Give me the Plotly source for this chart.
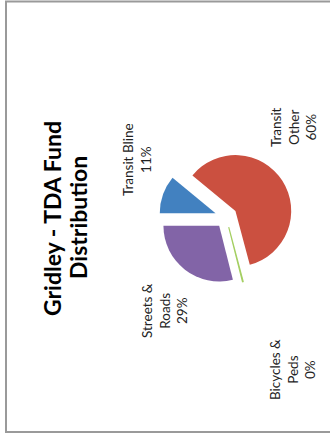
import plotly.graph_objects as go

categories = ["Transit Bline", "Transit Other", "Bicycles & Peds", "Streets & Roads"]
values = [11, 60, 0.2, 29]
pct_labels = ["11%", "60%", "0%", "29%"]
label_lines = ["Transit Bline", "Transit<br>Other", "Bicycles &<br>Peds", "Streets &<br>Roads"]
colors = ["#4281C0", "#CB5040", "#A5CF63", "#8264A7"]

W, H = 330, 436

fig = go.Figure(go.Pie(
    labels=categories,
    values=values,
    sort=False,
    direction="clockwise",
    rotation=270,
    pull=[0.2, 0.2, 0.2, 0.2],
    marker=dict(colors=colors, line=dict(color=colors, width=[0, 0, 1.2, 0])),
    textinfo="none",
    hoverinfo="label+percent",
    showlegend=False,
    domain=dict(x=[0.482, 0.888], y=[0.349, 0.656]),
))

# rotated data labels (the chart is shown turned 90 degrees)
label_pos = [(137, 160), (294, 127), (292, 370), (164, 311)]
for txt, pct, (px, py) in zip(label_lines, pct_labels, label_pos):
    fig.add_annotation(
        x=px / W, y=1 - py / H, xref="paper", yref="paper",
        text=f"{txt}<br>{pct}", showarrow=False, textangle=-90,
        xanchor="center", yanchor="middle",
        font=dict(family="Lato", size=13.5, color="#222222"),
    )

title_lines = ["Gridley - TDA Fund", "Distribution"]
for line, px in zip(title_lines, [52, 78]):
    fig.add_annotation(
        x=px / W, y=1 - 218 / H, xref="paper", yref="paper",
        text=f"<b>{line}</b>", showarrow=False, textangle=-90,
        xanchor="center", yanchor="middle",
        font=dict(family="Lato", size=23, color="#000000"),
    )

fig.add_shape(
    type="rect", xref="paper", yref="paper",
    x0=6 / W, x1=1.2, y0=4 / H, y1=1 - 1.5 / H,
    line=dict(color="#9a9a9a", width=2),
)

fig.update_layout(
    width=W, height=H,
    margin=dict(l=0, r=0, t=0, b=0),
    paper_bgcolor="white",
    plot_bgcolor="white",
)

fig.write_html("out.html", config={"displayModeBar": False},
               post_script="document.body.style.margin='0';")
